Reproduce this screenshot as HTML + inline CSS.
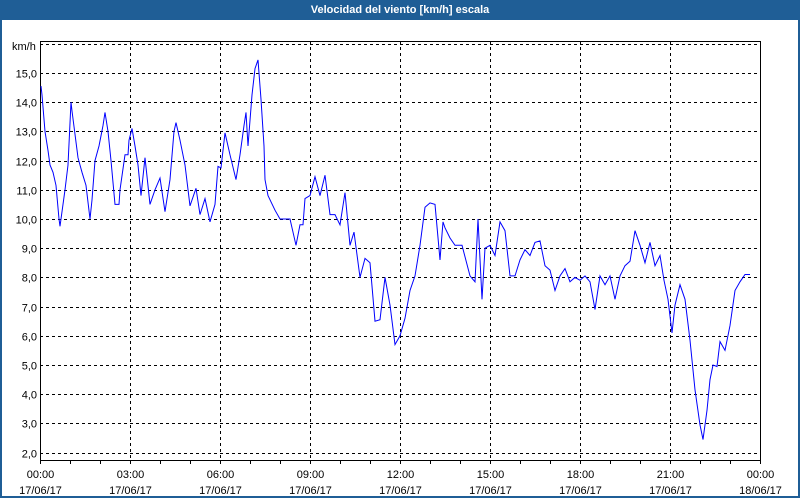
<!DOCTYPE html>
<html><head><meta charset="utf-8"><style>
html,body{margin:0;padding:0;background:#fff}
#win{position:relative;width:796px;height:496px;border:2px solid #1f5e96;border-top:none;background:#fff;overflow:hidden}
#title{position:absolute;left:0;top:0;width:796px;height:20px;background:#1f5e96;color:#fff;font:bold 11px "Liberation Sans",sans-serif;text-align:center;line-height:21px}
svg{position:absolute;left:-2px;top:0}
text{font-family:"Liberation Sans",sans-serif;font-size:11px;fill:#000}
</style></head><body>
<div id="win">
<div id="title">Velocidad del viento [km/h] escala</div>
<svg id="chart" width="800" height="500"></svg>
</div>
<script>
const yTicks=[2,3,4,5,6,7,8,9,10,11,12,13,14,15,16];
const xTickHours=[0,3,6,9,12,15,18,21,24];
const xTimeLabels=["00:00","03:00","06:00","09:00","12:00","15:00","18:00","21:00","00:00"];
const xDateLabels=["17/06/17","17/06/17","17/06/17","17/06/17","17/06/17","17/06/17","17/06/17","17/06/17","18/06/17"];
const minutes=[2,4,10,16,20,26,32,38,40,44,50,56,62,64,70,76,84,92,100,104,110,118,126,130,136,142,150,158,160,170,176,178,184,190,196,202,210,220,230,240,250,260,268,272,280,290,300,312,320,330,340,350,356,362,370,380,392,400,408,412,416,424,430,436,442,448,450,456,470,480,500,512,520,526,530,540,550,560,570,580,590,600,610,620,628,640,650,660,670,680,690,700,710,720,730,740,750,760,770,780,790,800,806,810,820,830,844,860,870,876,884,890,900,910,920,930,940,950,960,970,980,990,1000,1010,1020,1030,1040,1050,1060,1070,1080,1090,1100,1110,1120,1130,1140,1150,1160,1170,1180,1190,1200,1210,1220,1230,1240,1248,1256,1264,1270,1280,1290,1300,1310,1320,1326,1334,1340,1346,1354,1360,1370,1380,1390,1400,1410,1420,1430,1436];
const speeds=[14.55,14.25,13.0,12.35,11.85,11.6,11.15,10.0,9.75,10.25,11.0,11.85,14.0,13.7,12.9,12.1,11.6,11.15,10.0,10.65,12.0,12.5,13.2,13.65,13.0,12.0,10.5,10.5,11.0,12.2,12.2,12.7,13.1,12.5,11.85,10.8,12.1,10.5,11.0,11.4,10.25,11.35,13.0,13.3,12.7,11.85,10.45,11.05,10.15,10.7,9.9,10.5,11.8,11.75,12.95,12.2,11.35,12.2,13.2,13.65,12.5,14.25,15.15,15.45,14.1,12.5,11.35,10.8,10.3,10.0,10.0,9.1,9.8,9.8,10.7,10.8,11.45,10.8,11.5,10.15,10.15,9.8,10.9,9.1,9.55,8.0,8.65,8.5,6.5,6.55,8.0,7.05,5.7,6.0,6.6,7.55,8.05,9.1,10.4,10.55,10.5,8.6,9.9,9.7,9.35,9.1,9.1,8.05,7.85,10.0,7.25,9.0,9.1,8.75,9.9,9.6,8.05,8.05,8.6,8.95,8.75,9.2,9.25,8.4,8.25,7.55,8.05,8.3,7.85,8.0,7.9,8.05,7.85,6.9,8.05,7.75,8.05,7.25,8.05,8.4,8.55,9.6,9.1,8.5,9.2,8.4,8.75,7.9,7.25,6.1,7.05,7.75,7.25,5.85,4.15,2.95,2.45,3.45,4.5,5.0,4.95,5.8,5.5,6.35,7.55,7.85,8.1,8.1];
const L=40,R=760,T=41,B=460;
const X=m=>L+(m/1440)*(R-L);
const Y=v=>219-(v-10)*29.2;
const svg=document.getElementById('chart');
const NS='http://www.w3.org/2000/svg';
function mk(tag,attrs){const e=document.createElementNS(NS,tag);for(const k in attrs)e.setAttribute(k,attrs[k]);svg.appendChild(e);return e;}
yTicks.forEach(v=>{
  const y=Math.round(Y(v))+0.5;
  if(y<T||y>B)return;
  const g=mk('line',{x1:L,x2:R,y1:y,y2:y,stroke:'#000','stroke-dasharray':'3,3','stroke-width':1});
  
  
  if(v<16){
    const t=mk('text',{x:37,y:y+4,'text-anchor':'end'});
    t.textContent=v.toFixed(1).replace('.',',');
    
    
  }
});
xTickHours.forEach((h,i)=>{
  const x=Math.round(X(h*60))+0.5;
  if(i>0&&i<xTickHours.length-1){
    const g=mk('line',{x1:x,x2:x,y1:T,y2:B,stroke:'#000','stroke-dasharray':'3,3','stroke-width':1});
    
    
  }
  const t1=mk('text',{x:x,y:478,'text-anchor':'middle'});
  t1.textContent=xTimeLabels[i];
  
  
  const t2=mk('text',{x:x,y:494,'text-anchor':'middle'});
  t2.textContent=xDateLabels[i];
  
  
});
for(let h=0;h<=24;h++){
  const x=Math.round(X(h*60))+0.5;
  const tk=mk('line',{x1:x,x2:x,y1:B,y2:B+4,stroke:'#000'});
  
  
}
const frame=mk('rect',{x:L+0.5,y:T+0.5,width:R-L,height:B-T,fill:'none',stroke:'#000'});


const unit=mk('text',{x:12,y:50});
unit.textContent='km/h';


const pts=minutes.map((m,i)=>X(m).toFixed(1)+','+Y(speeds[i]).toFixed(1)).join(' ');
const line=mk('polyline',{points:pts,fill:'none',stroke:'#0000ff','stroke-width':1});


</script>
</body></html>
